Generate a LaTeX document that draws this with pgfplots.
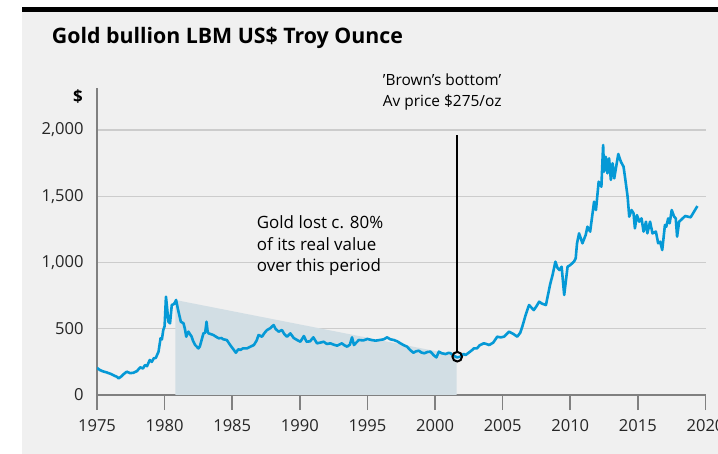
\documentclass[border=0pt]{standalone}
\usepackage{pgfplots}
\pgfplotsset{compat=1.18}
\usepackage{fontspec}
\setmainfont{Open Sans}

\definecolor{bgc}{RGB}{240,240,240}
\definecolor{goldblue}{RGB}{5,153,214}
\definecolor{shade}{RGB}{210,222,228}
\definecolor{axgray}{RGB}{128,128,128}
\definecolor{gridc}{RGB}{204,204,204}

\begin{document}
\begin{tikzpicture}
\useasboundingbox (0bp,0bp) rectangle (718bp,454bp);
\fill[white] (0bp,0bp) rectangle (718bp,454bp);
\fill[bgc] (21.7bp,0bp) rectangle (718bp,442.3bp);
\fill[black] (21.7bp,442.3bp) rectangle (718bp,447.3bp);
\node[anchor=base west, inner sep=0, font=\bfseries\fontsize{21.4}{25}\selectfont] at (51.7bp,410.7bp) {Gold bullion LBM US\$ Troy Ounce};
\node[anchor=base, inner sep=0, font=\bfseries\fontsize{17}{20}\selectfont] at (78bp,351bp) {\$};

\begin{axis}[
    at={(97bp,59bp)}, anchor=south west,
    scale only axis,
    width=608.5bp, height=307.4bp,
    xmin=1975, xmax=2020, ymin=0, ymax=2320,
    axis x line*=bottom, axis y line*=left,
    axis line style={draw=axgray, line width=2.5bp, -},
    xtick={1975,1980,...,2020},
    ytick={0,500,1000,1500,2000},
    xtick align=outside,
    major tick length=15bp,
    xtick style={draw=axgray, line width=1.6bp},
    ytick style={draw=none},
    ymajorgrids,
    grid style={draw=gridc, line width=1.2bp},
    /pgf/number format/assume math mode=true,
    ticklabel style={font=\fontsize{16.6}{19}\selectfont, text=black!85},
    xticklabel style={/pgf/number format/1000 sep={}, yshift=-6bp},
    yticklabel style={/pgf/number format/1000 sep={,}, xshift=-10bp},
    clip=true,
]
\addplot[fill=shade, draw=none] coordinates {
    (1980.8,0) (1980.8,717) (2001.6,300) (2001.6,0)
} \closedcycle;

\addplot[color=goldblue, line width=2.6bp, line join=round] coordinates {
    (1975.0,205) (1975.2,189) (1975.45,178) (1975.7,171) (1976.0,160)
    (1976.3,145) (1976.46,138) (1976.6,126) (1976.8,140) (1977.0,160)
    (1977.2,176) (1977.45,165) (1977.7,168) (1977.95,180) (1978.2,209)
    (1978.4,200) (1978.55,226) (1978.7,218) (1978.9,264) (1979.05,250)
    (1979.2,277) (1979.35,280) (1979.55,327) (1979.7,428) (1979.8,420)
    (1979.9,490) (1980.0,520) (1980.1,742) (1980.2,640) (1980.28,553)
    (1980.4,541) (1980.53,679) (1980.7,687) (1980.85,717) (1981.0,641)
    (1981.2,553) (1981.4,541) (1981.5,500) (1981.6,440) (1981.76,478)
    (1982.0,440) (1982.1,410) (1982.26,377) (1982.5,352) (1982.6,365)
    (1982.67,390) (1982.87,465) (1983.0,470) (1983.1,553) (1983.18,480)
    (1983.25,465) (1983.4,460) (1983.6,453) (1983.8,440) (1984.0,428)
    (1984.2,430) (1984.35,420) (1984.6,415) (1984.85,377) (1985.05,350)
    (1985.27,319) (1985.45,345) (1985.6,340) (1985.8,352) (1986.1,352)
    (1986.35,365) (1986.6,377) (1986.8,410) (1986.95,453) (1987.2,440)
    (1987.4,470) (1987.57,490) (1987.8,503) (1988.06,528) (1988.2,500)
    (1988.43,478) (1988.68,490) (1988.85,460) (1989.05,440) (1989.3,465)
    (1989.55,430) (1989.8,415) (1990.04,402) (1990.3,445) (1990.5,402)
    (1990.75,405) (1991.0,435) (1991.27,390) (1991.5,395) (1991.76,402)
    (1992.0,385) (1992.26,390) (1992.5,380) (1992.76,372) (1993.1,390)
    (1993.3,375) (1993.5,365) (1993.7,380) (1993.86,435) (1994.0,377)
    (1994.36,415) (1994.7,412) (1995.0,423) (1995.3,415) (1995.6,410)
    (1995.9,415) (1996.2,420) (1996.45,435) (1996.7,420) (1996.95,415)
    (1997.2,405) (1997.44,390) (1997.7,375) (1997.93,365) (1998.15,340)
    (1998.4,319) (1998.6,330) (1998.8,334) (1999.0,320) (1999.2,315)
    (1999.45,325) (1999.67,327) (1999.9,300) (2000.1,284) (2000.28,327)
    (2000.5,315) (2000.78,309) (2001.0,318) (2001.15,315) (2001.4,295)
    (2001.64,284) (2001.9,290) (2002.1,310) (2002.26,302) (2002.5,320)
    (2002.75,340) (2002.87,352) (2003.1,352) (2003.3,375) (2003.6,390)
    (2003.8,385) (2004.0,377) (2004.3,395) (2004.6,440) (2004.85,435)
    (2005.1,440) (2005.47,478) (2005.8,460) (2006.08,440) (2006.3,470)
    (2006.45,515) (2006.7,604) (2006.95,679) (2007.3,641) (2007.5,670)
    (2007.7,704) (2007.9,690) (2008.2,679) (2008.5,830) (2008.7,910)
    (2008.9,1006) (2009.05,960) (2009.2,943) (2009.36,968) (2009.55,755)
    (2009.8,968) (2010.0,981) (2010.27,1006) (2010.4,1031) (2010.5,1145)
    (2010.65,1220) (2010.9,1145) (2011.14,1208) (2011.27,1270) (2011.47,1233)
    (2011.76,1459) (2011.9,1396) (2012.1,1610) (2012.3,1572) (2012.43,1887)
    (2012.5,1685) (2012.63,1798) (2012.75,1673) (2012.87,1786) (2013.0,1623)
    (2013.13,1749) (2013.25,1635) (2013.55,1819) (2013.74,1761) (2013.94,1723)
    (2014.06,1635) (2014.24,1497) (2014.36,1346) (2014.53,1396) (2014.68,1371)
    (2014.78,1258) (2014.93,1358) (2015.1,1308) (2015.27,1333) (2015.42,1233)
    (2015.6,1308) (2015.7,1220) (2015.9,1308) (2016.08,1220) (2016.33,1233)
    (2016.5,1145) (2016.65,1157) (2016.8,1094) (2017.0,1283) (2017.1,1270)
    (2017.24,1333) (2017.35,1296) (2017.5,1396) (2017.68,1346) (2017.8,1333)
    (2017.9,1195) (2018.05,1308) (2018.5,1351) (2018.9,1341) (2019.4,1426)
};

\addplot[black, line width=2.5bp] coordinates {(2001.64,1962) (2001.64,326)};
\addplot[only marks, mark=o, mark size=4.8bp, mark options={draw=black, line width=2bp, fill=none}] coordinates {(2001.64,289)};
\end{axis}

\node[anchor=base west, inner sep=0, font=\fontsize{15.5}{18}\selectfont] at (382.7bp,368bp) {'Brown's bottom'};
\node[anchor=base west, inner sep=0, font=\fontsize{15.5}{18}\selectfont] at (382.7bp,347bp) {Av price \$275/oz};
\node[anchor=base west, inner sep=0, font=\fontsize{17}{20}\selectfont] at (256.7bp,225.7bp) {Gold lost c. 80\%};
\node[anchor=base west, inner sep=0, font=\fontsize{17}{20}\selectfont] at (256.7bp,203.3bp) {of its real value};
\node[anchor=base west, inner sep=0, font=\fontsize{17}{20}\selectfont] at (256.7bp,182.3bp) {over this period};
\end{tikzpicture}
\end{document}
